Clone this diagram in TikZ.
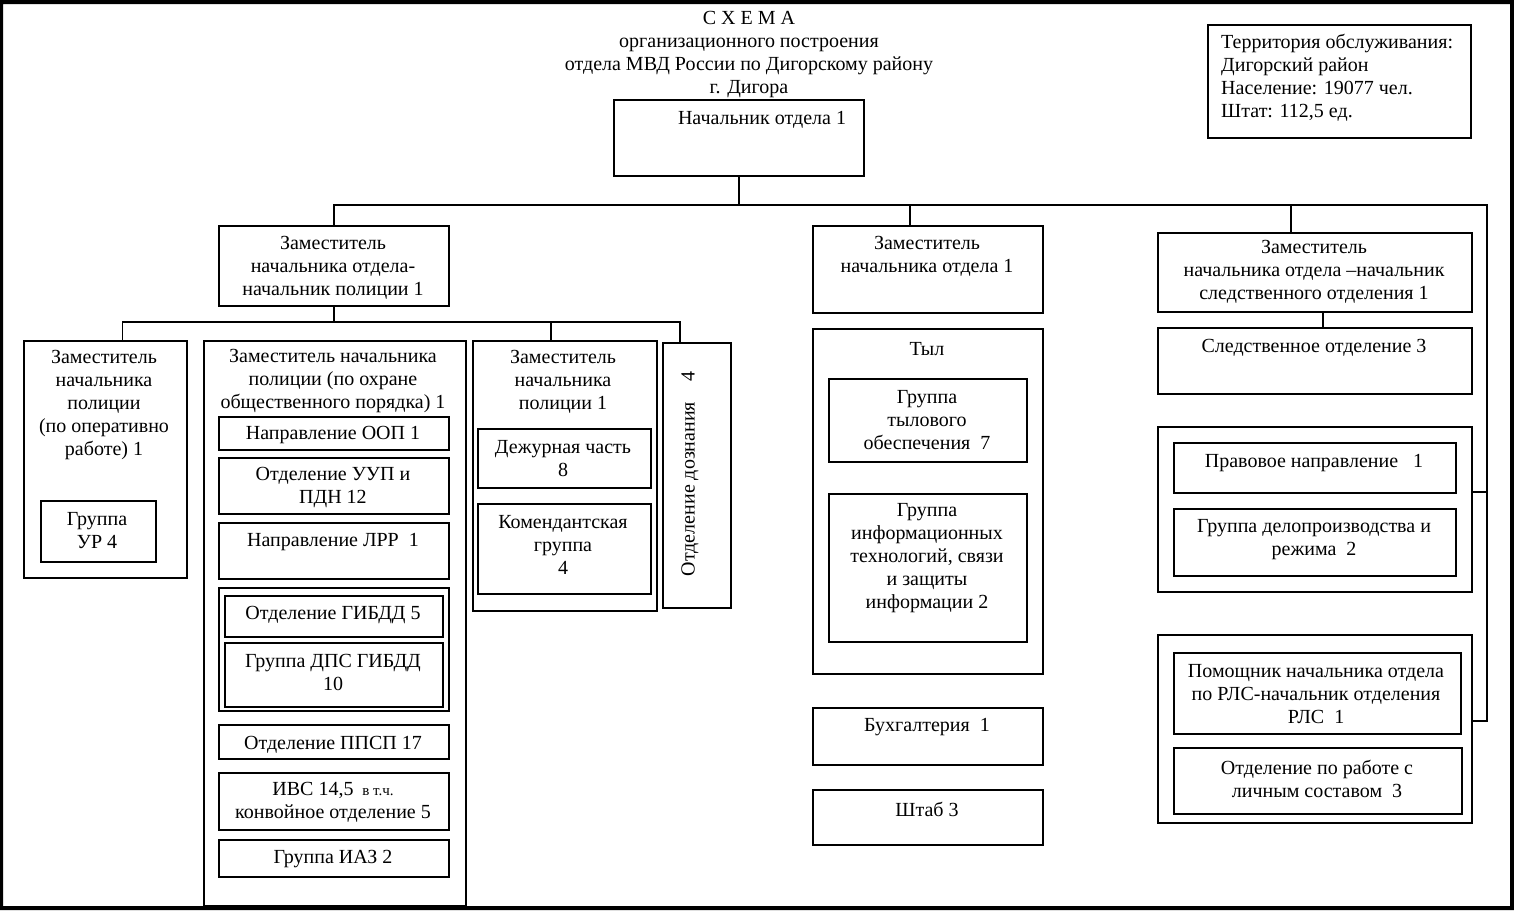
\documentclass[tikz,border=0pt]{standalone}
\usepackage{fontspec}
\setmainfont{Liberation Serif}
\begin{document}
\begin{tikzpicture}[x=1pt,y=-1pt,
 box/.style={draw, line width=1.5pt, inner sep=0pt, anchor=north west},
 t/.style={font=\fontsize{20}{23}\selectfont, align=center, inner sep=0pt},
 ln/.style={line width=1.5pt}]
\newcommand\mybox[5]{\node[box, minimum width={(#4-#2)*1pt}, minimum height={(#5-#3)*1pt}] (#1) at (#2,#3) {};}
\useasboundingbox (0,0) rectangle (1514,910);
\fill[black, even odd rule] (0,0) rectangle (1514,910) (3,4) rectangle (1510,906);

% title
\node[t] (ttl) at (749,55) {С Х Е М А\\организационного построения\\отдела МВД России по Дигорскому району\\г. Дигора};

% territory
\mybox{terr}{1207}{24}{1470}{137}
\node[t, align=left, anchor=west] (terrt) at (1221,77.5) {Территория обслуживания:\\Дигорский район\\Население: 19077 чел.\\Штат: 112,5 ед.};

% chief
\mybox{chief}{613}{99}{863}{175}
\node[t] (chieft) at (762,120) {Начальник отдела 1};

% deputies
\mybox{dep1}{218}{225}{448}{305}
\node[t] at (333,267.5) {Заместитель\\начальника отдела-\\начальник полиции 1};
\mybox{dep2}{812}{225}{1042}{312}
\node[t] at (927,256) {Заместитель\\начальника отдела 1};
\mybox{dep3}{1157}{232}{1471}{311}
\node[t] at (1314,272) {Заместитель\\начальника отдела –начальник\\следственного отделения 1};

% police column 1
\mybox{b1}{23}{340}{186}{577}
\node[t] at (104,404.5) {Заместитель\\начальника\\полиции\\(по оперативно\\работе) 1};
\mybox{ur}{40}{500}{155}{561}
\node[t] at (97,531) {Группа\\УР 4};

% police column 2
\mybox{b2}{203}{340}{465}{905}
\node[t] at (333,380.5) {Заместитель начальника\\полиции (по охране\\общественного порядка) 1};
\mybox{oop}{218}{416}{448}{449}
\node[t] at (333,435) {Направление ООП 1};
\mybox{uup}{218}{457}{448}{513}
\node[t] at (333,487.5) {Отделение УУП и\\ПДН 12};
\mybox{lrr}{218}{522}{448}{578}
\node[t] at (333,542) {Направление ЛРР\ \ 1};
\mybox{gibg}{218}{587}{448}{710}
\mybox{gib}{224}{595}{442}{636}
\node[t] at (333,615) {Отделение ГИБДД 5};
\mybox{dps}{224}{642}{442}{706}
\node[t] at (333,672.5) {Группа ДПС ГИБДД\\10};
\mybox{ppsp}{218}{724}{448}{758}
\node[t] at (333,745) {Отделение ППСП 17};
\mybox{ivs}{218}{772}{448}{829}
\node[t] at (333,802.5) {ИВС 14,5 {\fontsize{15}{23}\selectfont\ в т.ч.}\\конвойное отделение 5};
\mybox{iaz}{218}{839}{448}{876}
\node[t] at (333,859) {Группа ИАЗ 2};

% police column 3
\mybox{b3}{472}{340}{656}{610}
\node[t] at (563,381.5) {Заместитель\\начальника\\полиции 1};
\mybox{dez}{477}{428}{650}{487}
\node[t] at (563,458.5) {Дежурная часть\\8};
\mybox{kom}{477}{503}{650}{593}
\node[t] at (563,544.5) {Комендантская\\группа\\4};

% police column 4
\mybox{b4}{662}{342}{730}{607}
\node[t, rotate=90] at (690,474) {Отделение дознания\ \ \ \ 4};

% middle column
\mybox{tyl}{812}{328}{1042}{673}
\node[t] at (927,349) {Тыл};
\mybox{gto}{828}{378}{1026}{461}
\node[t] at (927,420) {Группа\\тылового\\обеспечения\ \ 7};
\mybox{git}{828}{493}{1026}{641}
\node[t] at (927,558) {Группа\\информационных\\технологий, связи\\и защиты\\информации 2};
\mybox{buh}{812}{707}{1042}{764}
\node[t] at (927,727) {Бухгалтерия\ \ 1};
\mybox{shtab}{812}{789}{1042}{844}
\node[t] at (927,809) {Штаб 3};

% right column
\mybox{sled}{1157}{327}{1471}{393}
\node[t] at (1314,348) {Следственное отделение 3};
\mybox{pravg}{1157}{426}{1471}{591}
\mybox{prav}{1173}{442}{1455}{492}
\node[t] at (1314,463) {Правовое направление\ \ \ 1};
\mybox{delo}{1173}{508}{1455}{575}
\node[t] at (1314,539.5) {Группа делопроизводства и\\режима\ \ 2};
\mybox{rlsg}{1157}{634}{1471}{822}
\mybox{pom}{1173}{652}{1460}{733}
\node[t] at (1316,694.5) {Помощник начальника отдела\\по РЛС-начальник отделения\\РЛС\ \ 1};
\mybox{ols}{1173}{747}{1461}{813}
\node[t] at (1317,778.5) {Отделение по работе с\\личным составом\ \ 3};

% connectors
\coordinate (busT) at (0,205);
\coordinate (busP) at (0,322);
\coordinate (busR) at (1487,205);
\draw[ln] (chief.south) -- (chief.south |- busT);
\draw[ln] (dep1.north) -- (dep1.north |- busT) -- (busR) -- (busR |- 0,721) -- (rlsg.east |- 0,721);
\draw[ln] (busR |- 0,492) -- (pravg.east |- 0,492);
\draw[ln] ([xshift=-18pt]dep2.north) -- ([xshift=-18pt]dep2.north |- busT);
\draw[ln] ([xshift=-24pt]dep3.north) -- ([xshift=-24pt]dep3.north |- busT);
\draw[ln] ([xshift=8pt]dep3.south) -- ([xshift=8pt]sled.north);
\draw[ln] (dep1.south) -- (dep1.south |- busP);
\draw[ln] ([xshift=17pt]b1.north) -- ([xshift=17pt]b1.north |- busP) -- ([xshift=-17pt]b4.north |- busP) -- ([xshift=-17pt]b4.north);
\draw[ln] ([xshift=-14pt]b3.north) -- ([xshift=-14pt]b3.north |- busP);
\end{tikzpicture}
\end{document}
